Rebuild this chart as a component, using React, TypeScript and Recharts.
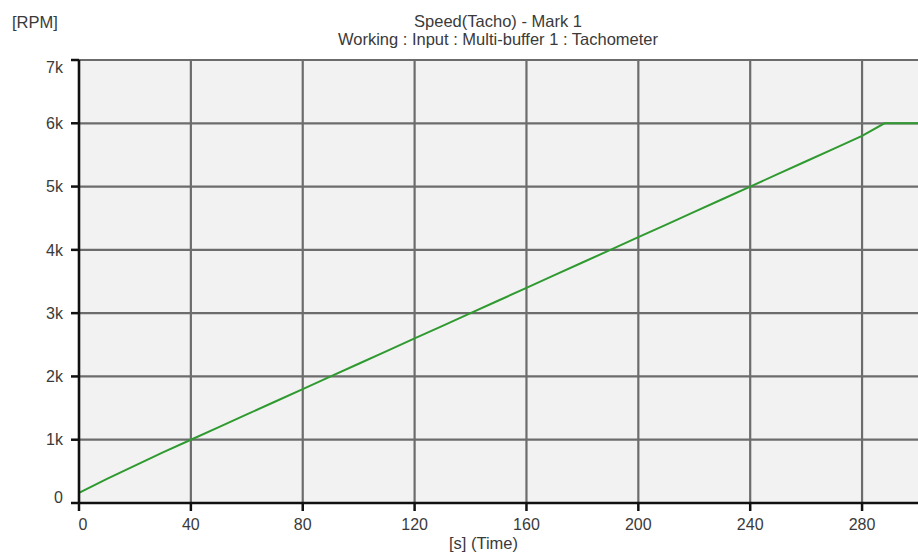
import React from 'react';
import { LineChart, Line, XAxis, YAxis, CartesianGrid, Label } from 'recharts';

const timeSec = [0, 10, 20, 30, 40, 50, 60, 70, 80, 90, 100, 110, 120, 130, 140, 150, 160, 170, 180, 190, 200, 210, 220, 230, 240, 250, 260, 270, 280, 288, 300];
const speedRpm = [160, 380, 590, 800, 1000, 1200, 1400, 1600, 1800, 2000, 2200, 2400, 2600, 2800, 3000, 3200, 3400, 3600, 3800, 4000, 4200, 4400, 4600, 4800, 5000, 5200, 5400, 5600, 5800, 6000, 6000];
const xTicks = [0, 40, 80, 120, 160, 200, 240, 280];
const yTicks = [0, 1000, 2000, 3000, 4000, 5000, 6000, 7000];

const data = timeSec.map((t, i) => ({ t, v: speedRpm[i] }));

const FONT = '"Liberation Sans", Arial, sans-serif';
const TXT = '#3a3a3a';

const YTick = (props: any) => {
  const { x, y, payload, index } = props;
  let dy = 0;
  if (index === 0) dy = -6;
  if (index === yTicks.length - 1) dy = 7;
  const label = payload.value === 0 ? '0' : `${payload.value / 1000}k`;
  return (
    <text x={x} y={y + dy} dy="0.355em" textAnchor="end" fill={TXT} fontSize={16} fontFamily={FONT}>
      {label}
    </text>
  );
};

const XTick = (props: any) => {
  const { x, y, payload, index } = props;
  const dx = index === 0 ? 4 : 0;
  return (
    <text x={x + dx} y={y} dy="0.71em" textAnchor="middle" fill={TXT} fontSize={16} fontFamily={FONT}>
      {payload.value}
    </text>
  );
};

export default function App() {
  return (
    <div style={{ position: 'absolute', left: 0, top: 0, width: 918, height: 552, background: '#fff', fontFamily: FONT }}>
      <div style={{ position: 'absolute', left: 12, top: 12, fontSize: 16.5, color: TXT, lineHeight: '20px' }}>[RPM]</div>
      <div style={{ position: 'absolute', left: 0, width: 996, top: 11, textAlign: 'center', fontSize: 16.5, color: TXT, lineHeight: '20px' }}>
        Speed(Tacho) - Mark 1
      </div>
      <div style={{ position: 'absolute', left: 0, width: 996, top: 29, textAlign: 'center', fontSize: 16.5, color: TXT, lineHeight: '20px' }}>
        Working : Input : Multi-buffer 1 : Tachometer
      </div>
      <LineChart width={918} height={552} data={data} margin={{ top: 60, right: 0, left: 0, bottom: 0 }} style={{ position: 'absolute', left: 0, top: 0 }}>
        <CartesianGrid stroke="#6c6c6c" strokeWidth={2.2} fill="#f2f2f2" horizontalValues={yTicks} verticalValues={xTicks} />
        <XAxis
          dataKey="t"
          type="number"
          domain={[0, 300]}
          ticks={xTicks}
          allowDataOverflow
          height={49}
          tick={<XTick />}
          tickSize={8}
          tickMargin={8}
          stroke="#111"
          strokeWidth={2.5}
          axisLine={{ stroke: '#111', strokeWidth: 2.5 }}
          tickLine={{ stroke: '#111', strokeWidth: 2.5 }}
        >
          <Label value="[s] (Time)" position="insideBottom" offset={3} dx={-15} fill={TXT} fontSize={16.5} fontFamily={FONT} />
        </XAxis>
        <YAxis
          type="number"
          domain={[0, 7000]}
          ticks={yTicks}
          width={79}
          tick={<YTick />}
          tickSize={8}
          tickMargin={8}
          interval={0}
          stroke="#111"
          axisLine={{ stroke: '#111', strokeWidth: 2.5 }}
          tickLine={{ stroke: '#111', strokeWidth: 2.5 }}
        />
        <Line type="linear" dataKey="v" stroke="#2f9a2f" strokeWidth={2} dot={false} isAnimationActive={false} />
      </LineChart>
    </div>
  );
}
